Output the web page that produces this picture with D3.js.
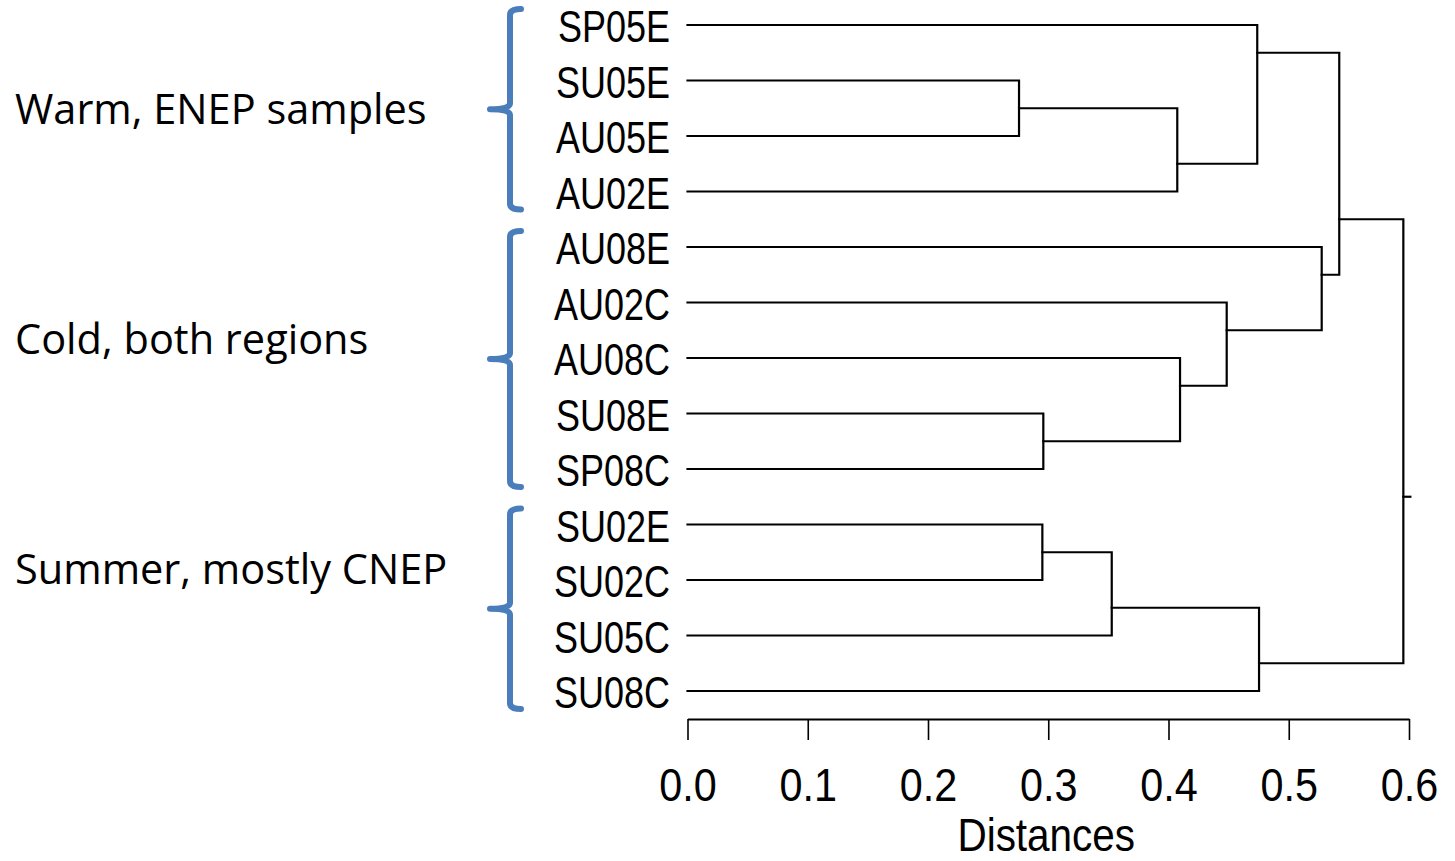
<!DOCTYPE html>
<html>
<head>
<meta charset="utf-8">
<script src="https://cdn.jsdelivr.net/npm/d3@7"></script>
<style>
  html, body { margin: 0; padding: 0; background: #fff; }
  svg { display: block; }
</style>
</head>
<body>
<div id="chart"></div>
<script>
// leaf order top to bottom
const leaves = ['SP05E','SU05E','AU05E','AU02E','AU08E','AU02C','AU08C','SU08E','SP08C','SU02E','SU02C','SU05C','SU08C'];

// joins: [upper child, lower child, distance]; nN refers to the N-th join
const joins = [
  ['SU05E', 'AU05E', 0.2757], // n0
  ['n0', 'AU02E', 0.4073],    // n1
  ['SP05E', 'n1', 0.4738],    // n2
  ['SU08E', 'SP08C', 0.2959], // n3
  ['AU08C', 'n3', 0.4096],    // n4
  ['AU02C', 'n4', 0.4484],    // n5
  ['AU08E', 'n5', 0.5274],    // n6
  ['n2', 'n6', 0.5420],       // n7
  ['SU02E', 'SU02C', 0.2951], // n8
  ['n8', 'SU05C', 0.3528],    // n9
  ['n9', 'SU08C', 0.4753],    // n10
  ['n7', 'n10', 0.5953]       // n11 (root)
];

const ticks = [0, 0.1, 0.2, 0.3, 0.4, 0.5, 0.6];

const groupLabels = ['Warm, ENEP samples', 'Cold, both regions', 'Summer, mostly CNEP'];
const groupFirst = ['SP05E', 'AU08E', 'SU02E'];
const groupLast = ['AU02E', 'SP08C', 'SU08C'];

const width = 1455, height = 861;
const svg = d3.select('#chart').append('svg')
  .attr('width', width)
  .attr('height', height);

const x = d3.scaleLinear().domain([0, 0.6]).range([687.5, 1409]);
const y = d3.scalePoint().domain(leaves).range([25, 691]);

// build node positions
const nodes = {};
leaves.forEach((l, i) => { nodes[l] = { d: 0, y: y(l), first: i, last: i }; });
joins.forEach(([a, b, d], i) => {
  const A = nodes[a], B = nodes[b];
  const yy = (y(leaves[A.last]) + y(leaves[B.first])) / 2;
  nodes['n' + i] = { d, y: yy, first: A.first, last: B.last, a: A, b: B };
});

const tree = svg.append('g')
  .attr('fill', 'none')
  .attr('stroke', '#000')
  .attr('stroke-width', 2.2)
  .attr('stroke-linecap', 'square');

joins.forEach((j, i) => {
  const n = nodes['n' + i];
  const p = d3.path();
  p.moveTo(x(n.a.d), n.a.y);
  p.lineTo(x(n.d), n.a.y);
  p.lineTo(x(n.d), n.b.y);
  p.lineTo(x(n.b.d), n.b.y);
  tree.append('path').attr('d', p.toString());
});

const root = nodes['n' + (joins.length - 1)];
tree.append('line')
  .attr('x1', x(root.d)).attr('x2', x(root.d) + 7)
  .attr('y1', root.y).attr('y2', root.y);

// leaf labels
svg.append('g')
  .selectAll('text')
  .data(leaves)
  .join('text')
  .attr('transform', d => `translate(670,${y(d) + 17}) scale(0.80,1)`)
  .attr('text-anchor', 'end')
  .attr('font-family', '"Liberation Sans", Arial, sans-serif')
  .attr('font-size', 45)
  .attr('fill', '#000')
  .text(d => d);

// axis
const axis = svg.append('g')
  .attr('transform', 'translate(0,719)')
  .call(d3.axisBottom(x).tickValues(ticks).tickSize(21).tickSizeOuter(0).tickFormat(d3.format('.1f')));
axis.select('.domain').attr('stroke', '#000').attr('stroke-width', 2.2);
axis.selectAll('.tick line').attr('stroke', '#000').attr('stroke-width', 1.6);
axis.selectAll('.tick text')
  .attr('y', 82).attr('dy', null)
  .attr('transform', 'scale(0.88,1)')
  .attr('font-family', '"Liberation Sans", Arial, sans-serif')
  .attr('font-size', 47)
  .attr('fill', '#000');

svg.append('text')
  .attr('transform', `translate(${(x(0) + x(0.6)) / 2 - 2},851) scale(0.88,1)`)
  .attr('text-anchor', 'middle')
  .attr('font-family', '"Liberation Sans", Arial, sans-serif')
  .attr('font-size', 46)
  .attr('fill', '#000')
  .text('Distances');

// group brackets
const labelY = [124, 354, 584];
groupLabels.forEach((lab, i) => {
  const top = y(groupFirst[i]) - 16;
  const bot = y(groupLast[i]) + 18;
  const mid = (top + bot) / 2;
  const bx = 510;
  const p = d3.path();
  p.moveTo(bx + 11, top);
  p.quadraticCurveTo(bx, top, bx, top + 6);
  p.lineTo(bx, mid - 6);
  p.quadraticCurveTo(bx, mid, bx - 20, mid);
  p.quadraticCurveTo(bx, mid, bx, mid + 6);
  p.lineTo(bx, bot - 6);
  p.quadraticCurveTo(bx, bot, bx + 11, bot);
  svg.append('path')
    .attr('d', p.toString())
    .attr('fill', 'none')
    .attr('stroke', '#4a7ebb')
    .attr('stroke-width', 6)
    .attr('stroke-linecap', 'round')
    .attr('stroke-linejoin', 'round');

  svg.append('text')
    .attr('x', 15)
    .attr('y', labelY[i])
    .attr('font-family', '"Open Sans", "Noto Sans", sans-serif')
    .attr('font-size', 41.5)
    .attr('fill', '#000')
    .text(lab);
});
</script>
</body>
</html>
